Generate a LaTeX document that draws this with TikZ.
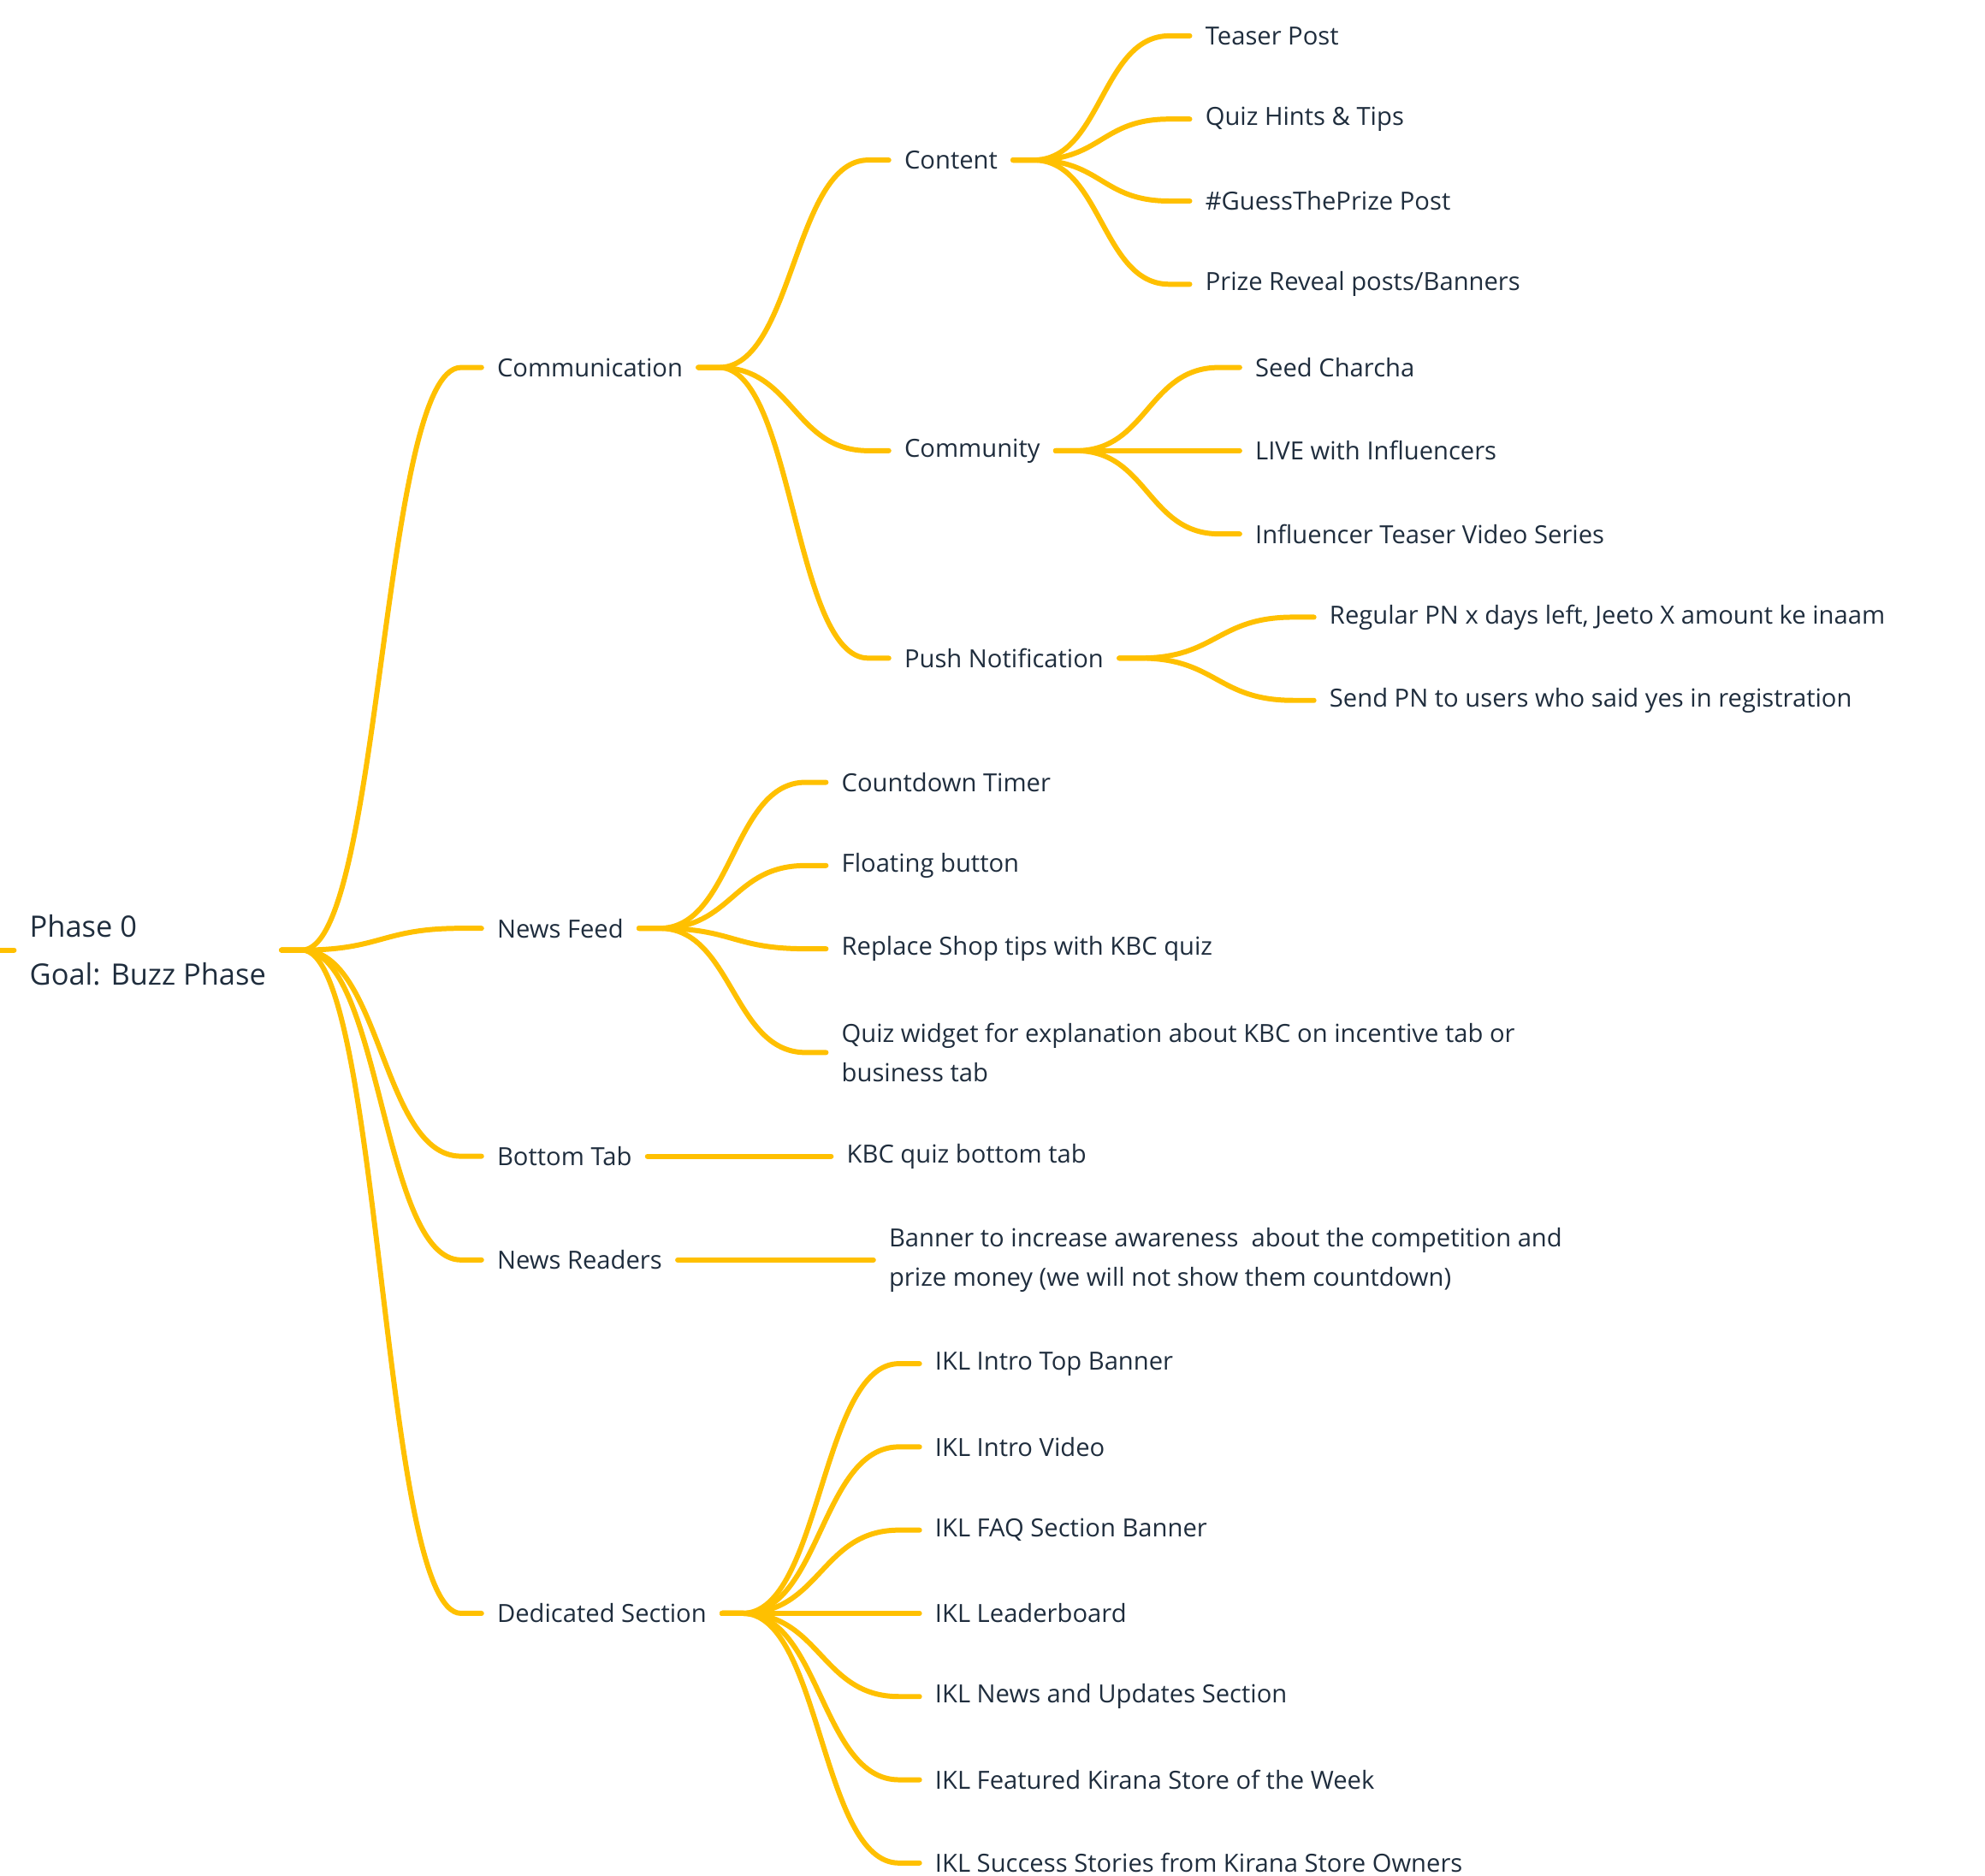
\documentclass[tikz,border=0pt]{standalone}
\usepackage{fontspec}
\setmainfont{Open Sans}
\usetikzlibrary{calc}
\definecolor{br}{HTML}{FFC000}
\definecolor{tx}{HTML}{1F2D3D}
\begin{document}
\begin{tikzpicture}[x=1pt,y=-1pt,
  n/.style={anchor=west,inner sep=0pt,text=tx,font=\fontsize{19.5}{31}\selectfont,align=left},
  e/.style={draw=br,line width=4pt,line cap=round}]
\useasboundingbox (0,0) rectangle (1550,1465);
\newcommand\lk[2]{\draw[e] let \p1=([xshift=28pt]#1.east), \p2=([xshift=-28pt]#2.west) in ([xshift=12pt]#1.east) -- (\p1) .. controls ({(\x1+\x2)/2},\y1) and ({(\x1+\x2)/2},\y2) .. (\p2) -- ([xshift=-12pt]#2.west);}
\node[n,font=\fontsize{23}{38}\selectfont] (r) at (23,742) {Phase 0\\Goal: Buzz Phase};
\coordinate (r0) at (0,742);
\draw[e] (r0) -- ([xshift=-12pt]r.west);
\node[n] (c) at (388,287) {Communication};
\node[n] (nf) at (388,725) {News Feed};
\node[n] (bt) at (388,903) {Bottom Tab};
\node[n] (nr) at (388,984) {News Readers};
\node[n] (ds) at (388,1260) {Dedicated Section};
\node[n] (ct) at (706,125) {Content};
\node[n] (cm) at (706,352) {Community};
\node[n] (pn) at (706,514) {Push Notification};
\node[n] (ct1) at (941,28) {Teaser Post};
\node[n] (ct2) at (941,93) {Quiz Hints \& Tips};
\node[n] (ct3) at (941,157) {\#GuessThePrize Post};
\node[n] (ct4) at (941,222) {Prize Reveal posts/Banners};
\node[n] (cm1) at (980,287) {Seed Charcha};
\node[n] (cm2) at (980,352) {LIVE with Influencers};
\node[n] (cm3) at (980,417) {Influencer Teaser Video Series};
\node[n] (pn1) at (1038,482) {Regular PN x days left, Jeeto X amount ke inaam};
\node[n] (pn2) at (1038,547) {Send PN to users who said yes in registration};
\node[n] (nf1) at (657,611) {Countdown Timer};
\node[n] (nf2) at (657,676) {Floating button};
\node[n] (nf3) at (657,741) {Replace Shop tips with KBC quiz};
\node[n] (nf4) at (657,822) {Quiz widget for explanation about KBC on incentive tab or\\business tab};
\node[n] (bt1) at (661,903) {KBC quiz bottom tab};
\node[n] (nr1) at (694,984) {Banner to increase awareness\ \ about the competition and\\prize money (we will not show them countdown)};
\node[n] (d1) at (730,1065) {IKL Intro Top Banner};
\node[n] (d2) at (730,1130) {IKL Intro Video};
\node[n] (d3) at (730,1195) {IKL FAQ Section Banner};
\node[n] (d4) at (730,1260) {IKL Leaderboard};
\node[n] (d5) at (730,1325) {IKL News and Updates Section};
\node[n] (d6) at (730,1390) {IKL Featured Kirana Store of the Week};
\node[n] (d7) at (730,1455) {IKL Success Stories from Kirana Store Owners};
\foreach \a in {c,nf,bt,nr,ds} {\lk{r}{\a}}
\foreach \a in {ct,cm,pn} {\lk{c}{\a}}
\foreach \a in {ct1,ct2,ct3,ct4} {\lk{ct}{\a}}
\foreach \a in {cm1,cm2,cm3} {\lk{cm}{\a}}
\foreach \a in {pn1,pn2} {\lk{pn}{\a}}
\foreach \a in {nf1,nf2,nf3,nf4} {\lk{nf}{\a}}
\lk{bt}{bt1}
\lk{nr}{nr1}
\foreach \a in {d1,d2,d3,d4,d5,d6,d7} {\lk{ds}{\a}}
\end{tikzpicture}
\end{document}
